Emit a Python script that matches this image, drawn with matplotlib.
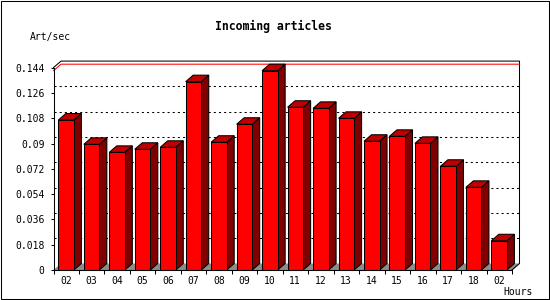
import matplotlib
matplotlib.use('Agg')
import matplotlib.pyplot as plt
from matplotlib.patches import Polygon, Rectangle

# data
hours = ['02', '03', '04', '05', '06', '07', '08', '09', '10',
         '11', '12', '13', '14', '15', '16', '17', '18', '02']
rates = [0.1067, 0.0894, 0.0837, 0.0859, 0.0873, 0.1340, 0.0909, 0.1037, 0.1418,
         0.1158, 0.1150, 0.1079, 0.0916, 0.0951, 0.0901, 0.0738, 0.0588, 0.0208]
yticks = [0, 0.018, 0.036, 0.054, 0.072, 0.09, 0.108, 0.126, 0.144]
ytick_labels = ['0', '0.018', '0.036', '0.054', '0.072', '0.09', '0.108', '0.126', '0.144']

plt.rcParams['lines.scale_dashes'] = False
mono = 'DejaVu Sans Mono'

W, H, DPI = 550, 300, 100
fig = plt.figure(figsize=(W / DPI, H / DPI), dpi=DPI)

# front plot area in pixels (y measured from top)
x0, x1 = 53.5, 512.0
y0, y1 = 270.0, 67.6
ax = fig.add_axes([x0 / W, 1 - y0 / H, (x1 - x0) / W, (y0 - y1) / H])
n = len(hours)
ymax = yticks[-1]
ax.set_xlim(0, n)
ax.set_ylim(0, ymax)
ax.patch.set_visible(False)

lw = 0.75
# 3D depth (pixels converted to data units)
ddx = 7.5 / ((x1 - x0) / n)
ddy = 6.5 / ((y0 - y1) / ymax)

# floor
ax.add_patch(Polygon([(0, 0), (n, 0), (n + ddx, ddy), (ddx, ddy)],
                     fc='#8c8c8c', ec='none', zorder=1, clip_on=False))

# grid lines on the back wall
for t in yticks[1:-1]:
    ax.plot([0, n + ddx], [t + ddy, t + ddy], color='k', lw=lw,
            dashes=(1.5, 2.2), zorder=2, clip_on=False)

# back frame
ax.plot([0, ddx, n + ddx, n + ddx, n], [ymax, ymax + ddy, ymax + ddy, ddy, 0],
        color='k', lw=lw, zorder=2, clip_on=False)

# max line
m = max(rates)
ax.plot([0, ddx, n + ddx], [m, m + ddy, m + ddy], color='#ff0000', lw=lw,
        zorder=2.5, clip_on=False)

# bars
for i, v in enumerate(rates):
    l, r = i + 0.19, i + 0.80
    ax.add_patch(Polygon([(r, 0), (r + ddx, ddy), (r + ddx, v + ddy), (r, v)],
                         fc='#800000', ec='k', lw=lw, zorder=3, clip_on=False))
    ax.add_patch(Polygon([(l, v), (l + ddx, v + ddy), (r + ddx, v + ddy), (r, v)],
                         fc='#c00000', ec='k', lw=lw, zorder=3, clip_on=False))
    ax.add_patch(Rectangle((l, 0), r - l, v, fc='#ff0000', ec='k', lw=lw,
                           zorder=3, clip_on=False))

# axes
for s in ['top', 'right']:
    ax.spines[s].set_visible(False)
for s in ['left', 'bottom']:
    ax.spines[s].set_linewidth(lw)
    ax.spines[s].set_zorder(4)

ax.set_yticks(yticks)
ax.set_yticklabels(ytick_labels, family=mono, fontsize=7)
ax.tick_params(axis='y', length=2.5, width=lw, pad=4)

ax.set_xticks(range(n + 1))
ax.set_xticklabels([])
ax.set_xticks([i + 0.49 for i in range(n)], minor=True)
ax.set_xticklabels(hours, minor=True, family=mono, fontsize=7)
ax.tick_params(axis='x', which='major', length=3, width=lw)
ax.tick_params(axis='x', which='minor', length=0, pad=4)

# texts
fig.text(273.5 / W, 1 - 26.7 / H, 'Incoming articles', ha='center', va='center',
         family=mono, weight='bold', fontsize=8.3)
fig.text(30 / W, 1 - 36.7 / H, 'Art/sec', ha='left', va='center',
         family=mono, fontsize=7)
fig.text(533 / W, 1 - 291.7 / H, 'Hours', ha='right', va='center',
         family=mono, fontsize=7)

# outer border
fig.add_artist(Rectangle((0.5 / W, 1 - 298.5 / H), 548 / W, 298 / H,
                         transform=fig.transFigure, fill=False, ec='k', lw=lw))

fig.savefig('out.png', dpi=DPI)
